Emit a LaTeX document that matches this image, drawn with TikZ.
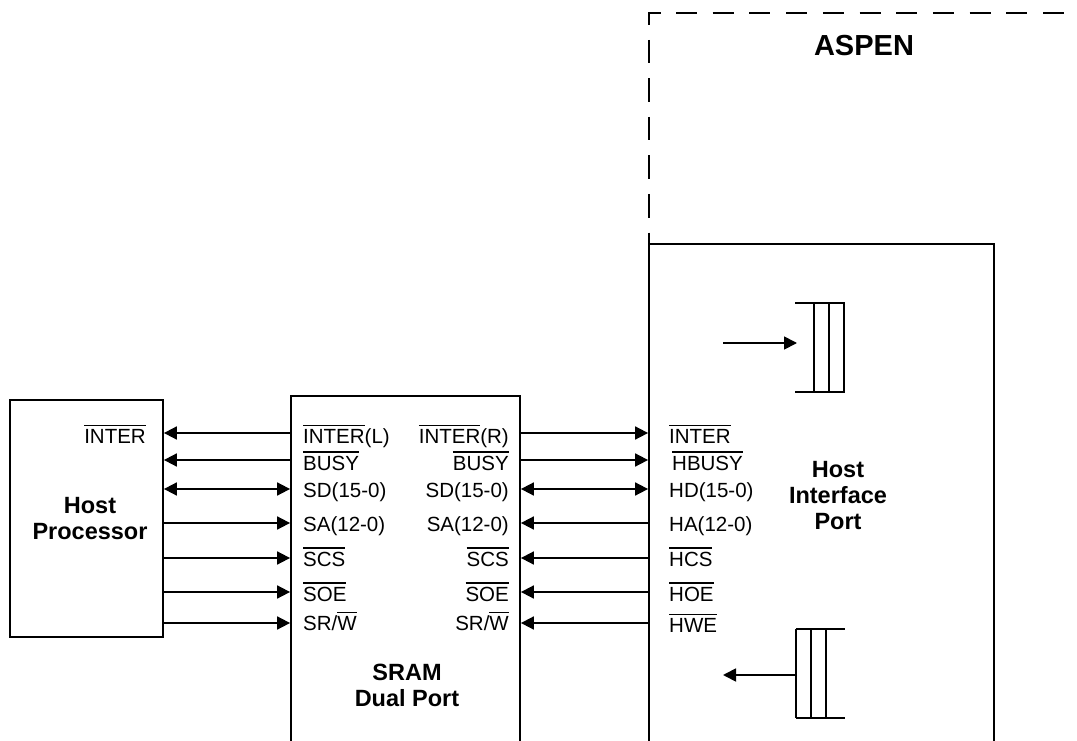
\documentclass[tikz,border=0pt]{standalone}
\usepackage{fontspec}
\setmainfont{Liberation Sans}
\usetikzlibrary{arrows.meta}
\newcommand\ovl[1]{\vbox{\hrule height 1.2pt\kern 3pt\hbox{#1}}}
\tikzset{
  lbl/.style={inner sep=0pt, font=\fontsize{20.5}{24}\selectfont},
  ttl/.style={inner sep=0pt, align=center, font=\fontsize{23.5}{26}\selectfont\bfseries},
  box/.style={draw, line width=1.8pt, inner sep=0pt},
  sig/.style={line width=1.8pt, -{Triangle[length=13pt,width=13pt]}},
  sigb/.style={line width=1.8pt, {Triangle[length=13pt,width=13pt]}-{Triangle[length=13pt,width=13pt]}},
  thin/.style={line width=1.8pt},
}
\begin{document}
\begin{tikzpicture}[x=1pt,y=-1pt]
\useasboundingbox (0,0) rectangle (1077,741);
\clip (0,0) rectangle (1077,741);

% boxes
\node[box, minimum width=153pt, minimum height=237pt] (hp) at (86.5,518.5) {};
\node[box, minimum width=229pt, minimum height=374pt] (sr) at (405.5,583) {};
\node[box, minimum width=345pt, minimum height=526pt] (hip) at (821.5,507) {};

% ASPEN dashed frame
\draw[thin, line join=miter] (649,25) -- (649,13) -- (661,13);
\draw[thin, dash pattern=on 23.5pt off 15pt] (649,40) -- (649,244);
\draw[thin, dash pattern=on 21pt off 15.7pt] (676,13) -- (1077,13);
\node[inner sep=0pt, anchor=base, font=\fontsize{29}{32}\selectfont\bfseries] (aspen) at (864,56) {ASPEN};

% titles
\node[ttl] (hpt) at (90,519) {Host\\Processor};
\node[ttl] (srt) at (407,685) {SRAM\\Dual Port};
\node[ttl] (hipt) at (838,496) {Host\\Interface\\Port};

% rows
\coordinate (r1) at (0,433);
\coordinate (r2) at (0,460);
\coordinate (r3) at (0,489);
\coordinate (r4) at (0,523);
\coordinate (r5) at (0,558);
\coordinate (r6) at (0,592);
\coordinate (r7) at (0,623);

% left connectors
\draw[sig] (sr.west|-r1) -- (hp.east|-r1);
\draw[sig] (sr.west|-r2) -- (hp.east|-r2);
\draw[sigb] (hp.east|-r3) -- (sr.west|-r3);
\draw[sig] (hp.east|-r4) -- (sr.west|-r4);
\draw[sig] (hp.east|-r5) -- (sr.west|-r5);
\draw[sig] (hp.east|-r6) -- (sr.west|-r6);
\draw[sig] (hp.east|-r7) -- (sr.west|-r7);

% right connectors
\draw[sig] (sr.east|-r1) -- (hip.west|-r1);
\draw[sig] (sr.east|-r2) -- (hip.west|-r2);
\draw[sigb] (sr.east|-r3) -- (hip.west|-r3);
\draw[sig] (hip.west|-r4) -- (sr.east|-r4);
\draw[sig] (hip.west|-r5) -- (sr.east|-r5);
\draw[sig] (hip.west|-r6) -- (sr.east|-r6);
\draw[sig] (hip.west|-r7) -- (sr.east|-r7);

% host label
\node[lbl, anchor=base east] (hinter) at (146,443) {\ovl{INTER}};

% SRAM left labels
\node[lbl, anchor=base west] (l1) at (303,443) {\ovl{INTER}(L)};
\node[lbl, anchor=base west] (l2) at (303,470) {\ovl{BUSY}};
\node[lbl, anchor=base west] (l3) at (303,497) {SD(15-0)};
\node[lbl, anchor=base west] (l4) at (303,531) {SA(12-0)};
\node[lbl, anchor=base west] (l5) at (303,566) {\ovl{SCS}};
\node[lbl, anchor=base west] (l6) at (303,601) {\ovl{SOE}};
\node[lbl, anchor=base west] (l7) at (303,630) {SR/\ovl{W}};

% SRAM right labels
\node[lbl, anchor=base east] (q1) at (509,443) {\ovl{INTER}(R)};
\node[lbl, anchor=base east] (q2) at (509,470) {\ovl{BUSY}};
\node[lbl, anchor=base east] (q3) at (509,497) {SD(15-0)};
\node[lbl, anchor=base east] (q4) at (509,531) {SA(12-0)};
\node[lbl, anchor=base east] (q5) at (509,566) {\ovl{SCS}};
\node[lbl, anchor=base east] (q6) at (509,601) {\ovl{SOE}};
\node[lbl, anchor=base east] (q7) at (509,630) {SR/\ovl{W}};

% HIP labels
\node[lbl, anchor=base west] (h1) at (669,443) {\ovl{INTER}};
\node[lbl, anchor=base west] (h2) at (672,470) {\ovl{HBUSY}};
\node[lbl, anchor=base west] (h3) at (669,497) {HD(15-0)};
\node[lbl, anchor=base west] (h4) at (669,531) {HA(12-0)};
\node[lbl, anchor=base west] (h5) at (669,566) {\ovl{HCS}};
\node[lbl, anchor=base west] (h6) at (669,601) {\ovl{HOE}};
\node[lbl, anchor=base west] (h7) at (669,632) {\ovl{HWE}};

% FIFO top
\draw[thin] (795,303) -- (845,303);
\draw[thin] (795,392) -- (845,392);
\foreach \x in {814,829,844} \draw[thin] (\x,303) -- (\x,392);
\coordinate (fin) at (797,343);
\coordinate (fins) at (723,343);
\draw[sig] (fins) -- (fin);

% FIFO bottom
\draw[thin] (796,629) -- (845,629);
\draw[thin] (796,718) -- (845,718);
\foreach \x in {796,811,826} \draw[thin] (\x,629) -- (\x,718);
\coordinate (fout) at (797,675);
\coordinate (fouts) at (723,675);
\draw[sig] (fout) -- (fouts);
\end{tikzpicture}
\end{document}
